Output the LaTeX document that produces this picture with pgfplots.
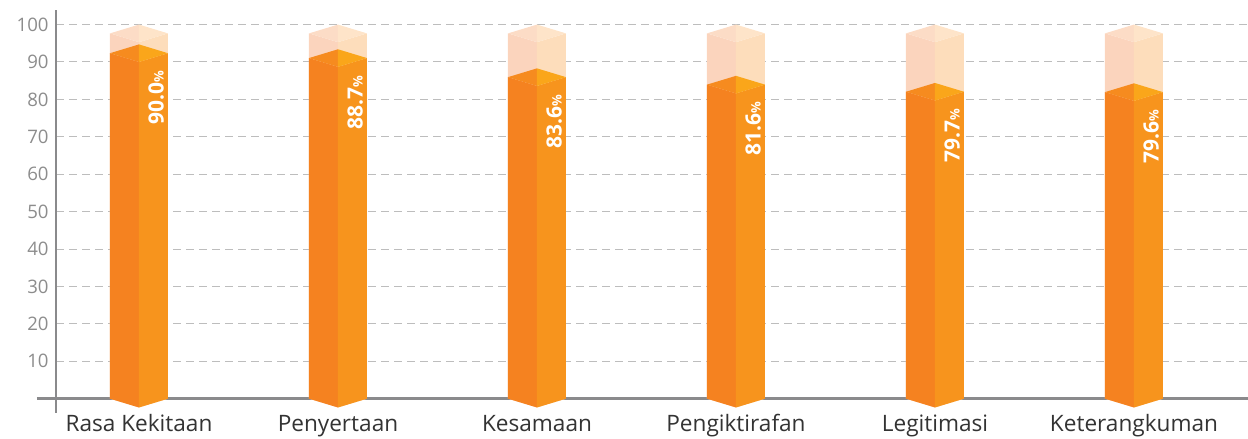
\documentclass[border=0pt]{standalone}
\usepackage{fontspec}
\setmainfont{Open Sans}
\usepackage{pgfplots}
\usepackage{pgfplotstable}
\pgfplotsset{compat=1.18}

\definecolor{barL}{HTML}{F58220}
\definecolor{barR}{HTML}{F7941D}
\definecolor{barTL}{HTML}{F68B1F}
\definecolor{barTR}{HTML}{FAA61A}
\definecolor{paleL}{HTML}{FBD4BD}
\definecolor{paleR}{HTML}{FDDDBB}
\definecolor{paleTL}{HTML}{FCDCC6}
\definecolor{paleTR}{HTML}{FEE4C9}
\definecolor{axisgray}{HTML}{8A8A8C}
\definecolor{gridgray}{HTML}{BDBDBD}
\definecolor{ticktext}{HTML}{8C8C8C}
\definecolor{cattext}{HTML}{333333}

\pgfplotstableread{
x v
0 90.0
1 88.7
2 83.6
3 81.6
4 79.7
5 79.6
}\datatable

% half width of a bar (x units) and the vertical skew of the prism (y units)
\def\hw{0.1457}
\def\dd{2.35}

% #1 x, #2 front-corner height, #3-#6 colours of the faces
\newcommand\prism[6]{%
  \pgfmathsetmacro\xl{#1-\hw}%
  \pgfmathsetmacro\xr{#1+\hw}%
  \pgfmathsetmacro\vs{#2+\dd}%
  \pgfmathsetmacro\vb{#2+2*\dd}%
  \addplot[fill=#3, draw=none] coordinates {(\xl,0) (#1,-\dd) (#1,#2) (\xl,\vs)};
  \addplot[fill=#4, draw=none] coordinates {(#1,-\dd) (\xr,0) (\xr,\vs) (#1,#2)};
  \addplot[fill=#5, draw=none] coordinates {(\xl,\vs) (#1,#2) (#1,\vb)};
  \addplot[fill=#6, draw=none] coordinates {(#1,#2) (\xr,\vs) (#1,\vb)};
}

\begin{document}
\begin{tikzpicture}
\begin{axis}[
  scale only axis, width=596pt, height=194.35pt,
  xmin=-0.417, xmax=5.573, ymin=0, ymax=103.9,
  clip=false,
  axis x line=bottom, axis y line=left,
  axis line style={draw=none},
  major tick length=0pt,
  ytick={10,20,...,100},
  xtick={0,...,5},
  xticklabels={Rasa Kekitaan, Penyertaan, Kesamaan, Pengiktirafan, Legitimasi, Keterangkuman},
  ymajorgrids,
  major grid style={gridgray, line width=0.5pt, dash pattern=on 4pt off 2.5pt},
  /pgf/number format/assume math mode=true,
  yticklabel style={font=\fontsize{9.3}{11}\selectfont, text=ticktext, inner sep=0pt, anchor=east, xshift=-3.5pt},
  xticklabel style={font=\fontsize{11.3}{13}\selectfont, text=cattext, inner sep=0pt, anchor=base, yshift=-16.5pt},
]
\draw[axisgray, line width=1.3pt] (axis cs:-0.417,-3.8) -- (axis cs:-0.417,103.9);
\draw[axisgray, line width=1.3pt] (axis cs:-0.513,0) -- (axis cs:5.573,0);
\pgfplotsforeachungrouped \i in {0,...,5}{%
  \pgfplotstablegetelem{\i}{v}\of\datatable
  \let\val\pgfplotsretval
  \prism{\i}{95.3}{paleL}{paleR}{paleTL}{paleTR}
  \prism{\i}{\val}{barL}{barR}{barTL}{barTR}
}
\addplot[draw=none, point meta=explicit,
  nodes near coords={\pgfmathprintnumber[fixed,fixed zerofill,precision=1]{\pgfplotspointmeta}{\fontsize{6.5}{7}\selectfont\%}},
  every node near coord/.append style={rotate=90, anchor=east, text=white, inner sep=0pt,
    font=\fontsize{10.5}{12}\selectfont\bfseries}]
  table[x expr=\thisrow{x}+0.086, y expr=\thisrow{v}-2.2, meta=v]{\datatable};
\coordinate (ll) at (rel axis cs:0,0);
\coordinate (ur) at (rel axis cs:1,1);
\end{axis}
\pgfresetboundingbox
\path ([xshift=-28pt,yshift=-20.15pt]ll) rectangle ([yshift=5pt]ur);
\end{tikzpicture}
\end{document}
